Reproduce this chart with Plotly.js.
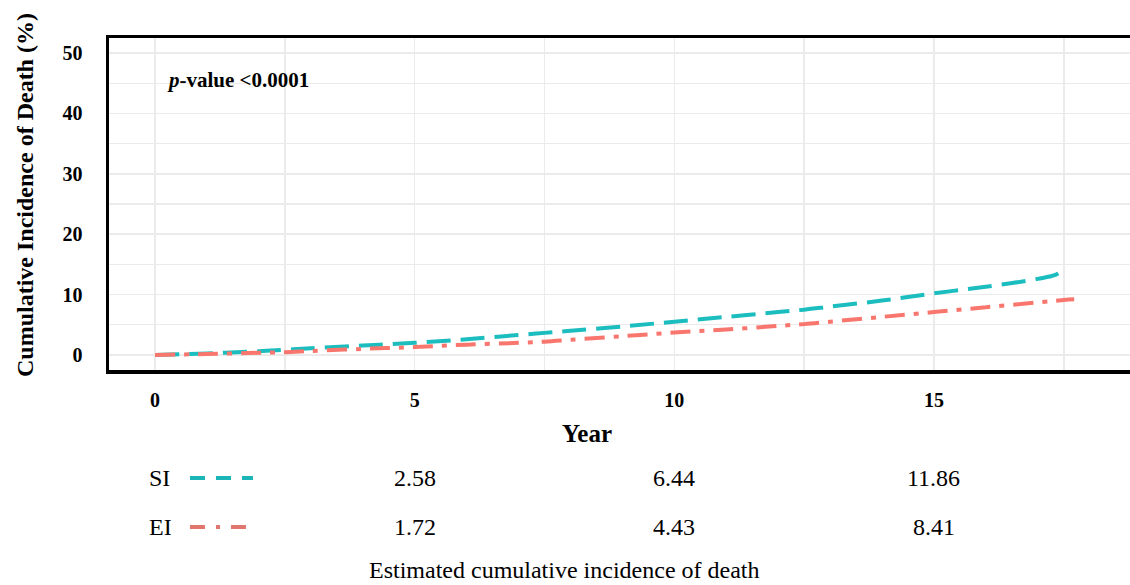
<!DOCTYPE html>
<html>
<head>
<meta charset="utf-8">
<script src="https://cdn.plot.ly/plotly-3.0.1.min.js"></script>
<style>html,body{margin:0;padding:0;background:#fff;}#chart{width:1130px;height:585px;}</style>
</head>
<body>
<div id="chart"></div>
<script>
// Data
const siYears = [0, 1, 2, 2.5, 3, 4, 5, 6, 7, 7.5, 8, 9, 10, 11, 12, 12.5, 13, 14, 15, 16, 17, 17.35, 17.5];
const siValues = [0, 0.25, 0.6, 0.85, 1.1, 1.55, 2.0, 2.6, 3.3, 3.65, 4.0, 4.7, 5.5, 6.3, 7.1, 7.5, 8.0, 9.0, 10.2, 11.3, 12.6, 13.3, 14.2];
const eiYears = [0, 1, 2, 2.5, 3, 4, 5, 6, 7, 7.5, 8, 9, 10, 11, 12, 12.5, 13, 14, 15, 16, 17, 17.5, 17.7];
const eiValues = [0, 0.15, 0.35, 0.45, 0.65, 1.0, 1.3, 1.7, 2.0, 2.2, 2.5, 3.1, 3.7, 4.2, 4.8, 5.1, 5.5, 6.3, 7.1, 7.9, 8.7, 9.1, 9.2];
const groupNames = ['SI', 'EI'];
const tableYears = [5, 10, 15];
const siTable = ['2.58', '6.44', '11.86'];
const eiTable = ['1.72', '4.43', '8.41'];
const xTickVals = [0, 5, 10, 15];
const yTickVals = [0, 10, 20, 30, 40, 50];

const siColor = '#1CBDBF';
const eiColor = '#F8766D';
const siDash = '24px,10px';
const eiDash = '20px,9px,5px,9px';
const serif = 'Liberation Serif, Times New Roman, serif';

const traces = [
  {x: siYears, y: siValues, name: groupNames[0], mode: 'lines', line: {color: siColor, width: 4, dash: siDash, shape: 'spline'}, showlegend: false},
  {x: eiYears, y: eiValues, name: groupNames[1], mode: 'lines', line: {color: eiColor, width: 4, dash: eiDash, shape: 'spline'}, showlegend: false}
];

const rowY = [-0.325, -0.473];
const annotations = [
  {xref: 'paper', yref: 'paper', x: 0.055, y: 0.873, xanchor: 'left', yanchor: 'middle', showarrow: false,
   text: '<b><i>p</i>-value &lt;0.0001</b>', font: {family: serif, size: 21, color: '#000'}},
  {xref: 'paper', yref: 'paper', x: 0.4457, y: -0.603, xanchor: 'center', yanchor: 'middle', showarrow: false,
   text: 'Estimated cumulative incidence of death', font: {family: serif, size: 24, color: '#000'}},
  {xref: 'paper', yref: 'paper', x: 0.468, y: -0.19, xanchor: 'center', yanchor: 'middle', showarrow: false,
   text: '<b>Year</b>', font: {family: serif, size: 25, color: '#000'}},
  {xref: 'paper', yref: 'paper', x: -0.0823, y: 0.527, xanchor: 'center', yanchor: 'middle', showarrow: false, textangle: -90,
   text: '<b>Cumulative Incidence of Death (%)</b>', font: {family: serif, size: 24, color: '#000'}}
];
[siTable, eiTable].forEach((vals, r) => {
  annotations.push({xref: 'paper', yref: 'paper', x: 0.037, y: rowY[r], xanchor: 'left', yanchor: 'middle', showarrow: false,
    text: groupNames[r], font: {family: serif, size: 24, color: '#000'}});
  vals.forEach((v, i) => {
    annotations.push({xref: 'x', yref: 'paper', x: tableYears[i], y: rowY[r], xanchor: 'center', yanchor: 'middle', showarrow: false,
      text: v, font: {family: serif, size: 24, color: '#000'}});
  });
});

const shapes = [
  {type: 'line', xref: 'paper', yref: 'paper', x0: 0.0793, x1: 0.141, y0: rowY[0], y1: rowY[0], line: {color: '#1AB5B7', width: 4, dash: '15px,11px'}},
  {type: 'line', xref: 'paper', yref: 'paper', x0: 0.0793, x1: 0.135, y0: rowY[1], y1: rowY[1], line: {color: '#E0766E', width: 4, dash: '15px,11px,4px,11px'}}
];

const layout = {
  width: 1130, height: 585,
  margin: {l: 109, r: 0, t: 38, b: 215},
  paper_bgcolor: '#fff', plot_bgcolor: '#fff',
  font: {family: serif, color: '#000'},
  xaxis: {
    range: [-0.886, 18.775], tickvals: xTickVals, ticktext: xTickVals.map(String),
    showgrid: true, gridcolor: '#EBEBEB', gridwidth: 1.5,
    minor: {dtick: 2.5, tick0: 0, showgrid: true, gridcolor: '#EBEBEB', gridwidth: 1.5},
    zeroline: false, showline: true, linecolor: '#000', linewidth: 3.5, mirror: true,
    ticks: '', ticklabelstandoff: 9,
    tickfont: {family: serif, size: 20, color: '#000', weight: 'bold'}
  },
  yaxis: {
    range: [-2.5, 52.5], tickvals: yTickVals, ticktext: yTickVals.map(String),
    showgrid: true, gridcolor: '#EBEBEB', gridwidth: 1.5,
    minor: {dtick: 5, tick0: 0, showgrid: true, gridcolor: '#EBEBEB', gridwidth: 1.5},
    zeroline: false, showline: true, linecolor: '#000', linewidth: 3.5,
    ticks: '', ticklabelstandoff: 19,
    tickfont: {family: serif, size: 20, color: '#000', weight: 'bold'}
  },
  annotations: annotations,
  shapes: shapes
};

Plotly.newPlot('chart', traces, layout, {displayModeBar: false, staticPlot: true});
</script>
</body>
</html>
